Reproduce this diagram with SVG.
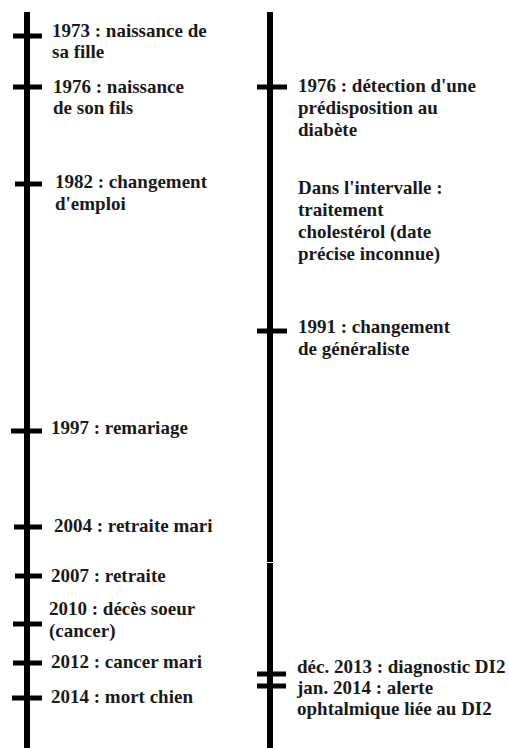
<svg xmlns="http://www.w3.org/2000/svg" width="509" height="748" viewBox="0 0 509 748">
<style>
.axis{stroke:#000;stroke-width:6;fill:none}
.tick{stroke:#000;stroke-width:5;fill:none}
text{font-family:"Liberation Serif","Times New Roman",serif;font-weight:bold;font-size:19px;fill:#1a1a1a}
</style>
<rect width="509" height="748" fill="#fff"/>
<g id="connectors">
<line class="axis" x1="27" y1="12" x2="27" y2="748"/>
<line class="axis" x1="270" y1="12" x2="270" y2="562"/>
<line class="axis" x1="270" y1="563" x2="270" y2="748"/>
</g>
<g id="e1973"><line class="tick" x1="13" y1="36" x2="42" y2="36"/><text x="52" y="37">1973 : naissance de</text><text x="52" y="58">sa fille</text></g>
<g id="e1976a"><line class="tick" x1="13" y1="87" x2="42" y2="87"/><text x="53" y="93">1976 : naissance</text><text x="53" y="114">de son fils</text></g>
<g id="e1982"><line class="tick" x1="15" y1="184" x2="42" y2="184"/><text x="55" y="188">1982 : changement</text><text x="55" y="210">d'emploi</text></g>
<g id="e1997"><line class="tick" x1="11" y1="431" x2="42" y2="431"/><text x="51" y="434">1997 : remariage</text></g>
<g id="e2004"><line class="tick" x1="14" y1="527" x2="42" y2="527"/><text x="54" y="532">2004 : retraite mari</text></g>
<g id="e2007"><line class="tick" x1="15" y1="576" x2="42" y2="576"/><text x="51" y="582">2007 : retraite</text></g>
<g id="e2010"><line class="tick" x1="13" y1="624" x2="42" y2="624"/><text x="49" y="615">2010 : décès soeur</text><text x="49" y="637">(cancer)</text></g>
<g id="e2012"><line class="tick" x1="13" y1="663" x2="42" y2="663"/><text x="51" y="668">2012 : cancer mari</text></g>
<g id="e2014"><line class="tick" x1="12" y1="698" x2="42" y2="698"/><text x="51" y="703">2014 : mort chien</text></g>
<g id="m1976"><line class="tick" x1="257" y1="87" x2="287" y2="87"/><text x="298" y="92">1976 : détection d'une</text><text x="298" y="114">prédisposition au</text><text x="298" y="136">diabète</text></g>
<g id="mInterval"><text x="298" y="194">Dans l'intervalle :</text><text x="298" y="216">traitement</text><text x="298" y="238">cholestérol (date</text><text x="298" y="260">précise inconnue)</text></g>
<g id="m1991"><line class="tick" x1="257" y1="331" x2="287" y2="331"/><text x="298" y="333">1991 : changement</text><text x="298" y="355">de généraliste</text></g>
<g id="m2013"><line class="tick" x1="257" y1="674" x2="286" y2="674"/><line class="tick" x1="257" y1="686" x2="286" y2="686"/><text x="297" y="673">déc. 2013 : diagnostic DI2</text><text x="297" y="694">jan. 2014 : alerte</text><text x="297" y="715">ophtalmique liée au DI2</text></g>
</svg>
